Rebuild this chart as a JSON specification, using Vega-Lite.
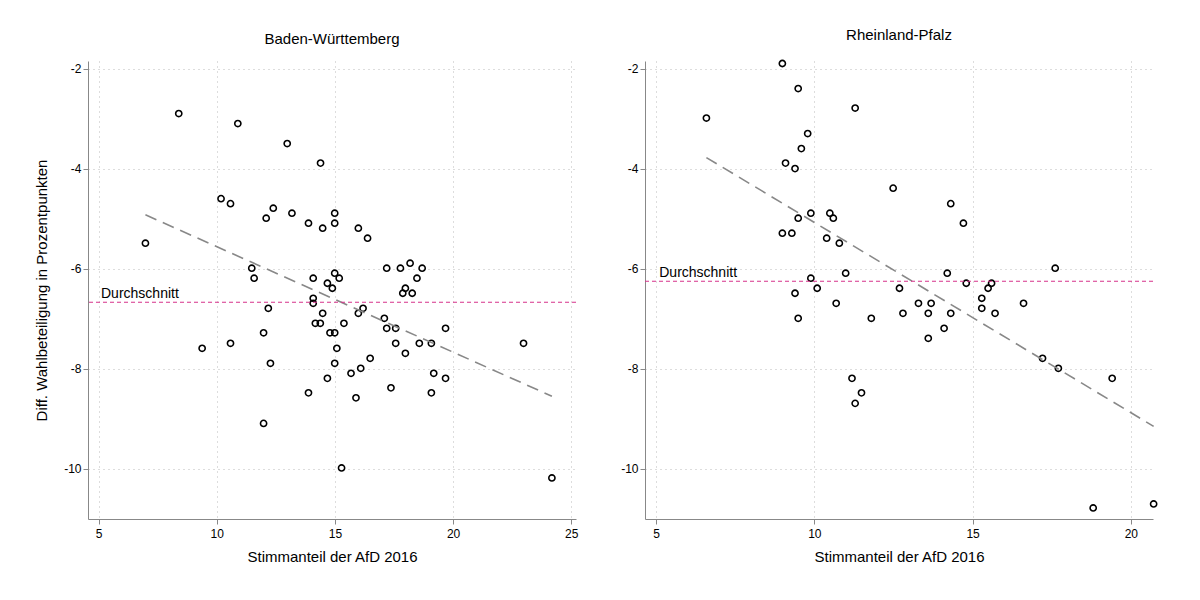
{
"$schema": "https://vega.github.io/schema/vega-lite/v6.json",
"background": "white",
"padding": {"left": 34, "top": 28, "right": 10, "bottom": 10},
"config": {
  "font": "Liberation Sans",
  "view": {"stroke": null},
  "axis": {"gridDash": [1, 4], "gridColor": "#bbbbbb", "gridWidth": 1, "domainColor": "#888888", "tickColor": "#888888", "labelFontSize": 12, "titleFontSize": 15, "titleFontWeight": "normal", "labelColor": "#000", "titleColor": "#000", "labelFont": "Liberation Sans", "titleFont": "Liberation Sans"},
  "title": {"fontSize": 15, "fontWeight": "normal", "font": "Liberation Sans", "offset": 14, "baseline": "alphabetic"},
  "concat": {"spacing": 42}
},
"datasets": {
 "bw": [
  {"x":8.39,"y":-2.90},{"x":10.89,"y":-3.10},{"x":12.98,"y":-3.50},{"x":14.39,"y":-3.89},{"x":10.18,"y":-4.60},{"x":10.58,"y":-4.70},{"x":12.39,"y":-4.79},{"x":12.09,"y":-4.99},{"x":13.18,"y":-4.89},{"x":14.99,"y":-4.89},{"x":13.88,"y":-5.09},{"x":14.99,"y":-5.09},{"x":14.48,"y":-5.19},{"x":15.99,"y":-5.19},{"x":16.38,"y":-5.39},{"x":6.98,"y":-5.49},{"x":11.48,"y":-5.99},{"x":11.58,"y":-6.19},{"x":17.19,"y":-5.99},{"x":17.77,"y":-5.99},{"x":18.18,"y":-5.89},{"x":18.69,"y":-5.99},{"x":18.47,"y":-6.19},{"x":14.08,"y":-6.19},{"x":14.99,"y":-6.09},{"x":15.18,"y":-6.19},{"x":14.68,"y":-6.29},{"x":14.89,"y":-6.39},{"x":17.98,"y":-6.39},{"x":17.87,"y":-6.49},{"x":18.27,"y":-6.49},{"x":14.08,"y":-6.59},{"x":14.08,"y":-6.69},{"x":12.18,"y":-6.79},{"x":14.48,"y":-6.89},{"x":16.19,"y":-6.79},{"x":15.99,"y":-6.89},{"x":17.09,"y":-6.99},{"x":14.17,"y":-7.09},{"x":14.38,"y":-7.09},{"x":15.38,"y":-7.09},{"x":17.19,"y":-7.19},{"x":17.57,"y":-7.19},{"x":19.68,"y":-7.19},{"x":11.98,"y":-7.28},{"x":14.79,"y":-7.28},{"x":14.99,"y":-7.28},{"x":9.38,"y":-7.59},{"x":10.58,"y":-7.49},{"x":15.08,"y":-7.59},{"x":17.57,"y":-7.49},{"x":18.57,"y":-7.49},{"x":19.08,"y":-7.49},{"x":22.98,"y":-7.49},{"x":17.98,"y":-7.69},{"x":12.27,"y":-7.89},{"x":14.99,"y":-7.89},{"x":16.49,"y":-7.79},{"x":16.09,"y":-7.99},{"x":15.68,"y":-8.09},{"x":14.68,"y":-8.19},{"x":19.18,"y":-8.09},{"x":19.68,"y":-8.19},{"x":17.37,"y":-8.38},{"x":13.88,"y":-8.48},{"x":19.08,"y":-8.48},{"x":15.89,"y":-8.58},{"x":11.98,"y":-9.09},{"x":15.28,"y":-9.98},{"x":24.18,"y":-10.18}
 ],
 "rp": [
  {"x":6.59,"y":-2.99},{"x":8.99,"y":-1.90},{"x":9.49,"y":-2.40},{"x":11.29,"y":-2.79},{"x":9.79,"y":-3.30},{"x":9.59,"y":-3.60},{"x":9.09,"y":-3.89},{"x":9.39,"y":-4.0},{"x":12.49,"y":-4.39},{"x":14.31,"y":-4.70},{"x":14.71,"y":-5.09},{"x":9.89,"y":-4.89},{"x":9.49,"y":-4.99},{"x":10.49,"y":-4.89},{"x":10.6,"y":-4.99},{"x":8.99,"y":-5.29},{"x":9.29,"y":-5.29},{"x":10.39,"y":-5.39},{"x":10.79,"y":-5.49},{"x":10.99,"y":-6.09},{"x":14.2,"y":-6.09},{"x":17.61,"y":-5.99},{"x":9.89,"y":-6.19},{"x":14.8,"y":-6.29},{"x":15.6,"y":-6.29},{"x":15.49,"y":-6.39},{"x":10.09,"y":-6.39},{"x":12.69,"y":-6.39},{"x":9.39,"y":-6.49},{"x":15.29,"y":-6.59},{"x":10.69,"y":-6.69},{"x":13.29,"y":-6.69},{"x":13.69,"y":-6.69},{"x":16.61,"y":-6.69},{"x":15.29,"y":-6.79},{"x":12.8,"y":-6.89},{"x":13.6,"y":-6.89},{"x":14.31,"y":-6.89},{"x":15.71,"y":-6.89},{"x":9.49,"y":-6.99},{"x":11.8,"y":-6.99},{"x":14.1,"y":-7.19},{"x":13.6,"y":-7.39},{"x":17.21,"y":-7.79},{"x":17.71,"y":-7.99},{"x":19.41,"y":-8.19},{"x":11.19,"y":-8.19},{"x":11.49,"y":-8.48},{"x":11.29,"y":-8.69},{"x":18.81,"y":-10.78},{"x":20.72,"y":-10.70}
 ],
 "bwavg": [{"x":5.1,"y":-6.67,"label":"Durchschnitt"}],
 "rpavg": [{"x":5.1,"y":-6.25,"label":"Durchschnitt"}]
},
"hconcat": [
 {
  "title": "Baden-Württemberg",
  "width": 488, "height": 458,
  "layer": [
   {"data": {"name": "bw"}, "mark": {"type": "point", "shape": "circle", "filled": false, "color": "black", "size": 38, "strokeWidth": 1.6, "opacity": 1},
    "encoding": {
     "x": {"field": "x", "type": "quantitative", "scale": {"domain": [4.55, 25.2], "nice": false, "zero": false}, "axis": {"values": [5, 10, 15, 20, 25], "title": "Stimmanteil der AfD 2016", "titlePadding": 10, "labelPadding": 4}},
     "y": {"field": "y", "type": "quantitative", "scale": {"domain": [-11, -1.85], "nice": false, "zero": false}, "axis": {"values": [-2, -4, -6, -8, -10], "labelExpr": "replace(datum.label, '−', '-')", "title": "Diff. Wahlbeteiligung in Prozentpunkten", "titlePadding": 14}}
    }},
   {"data": {"name": "bw"}, "transform": [{"regression": "y", "on": "x"}], "mark": {"type": "line", "color": "#888888", "strokeDash": [12, 7], "strokeWidth": 1.6},
    "encoding": {"x": {"field": "x", "type": "quantitative"}, "y": {"field": "y", "type": "quantitative"}}},
   {"data": {"name": "bwavg"}, "mark": {"type": "rule", "color": "#d6338a", "strokeDash": [4, 3], "strokeWidth": 1.2},
    "encoding": {"y": {"field": "y", "type": "quantitative"}}},
   {"data": {"name": "bwavg"}, "mark": {"type": "text", "align": "left", "baseline": "bottom", "fontSize": 14, "dy": -1},
    "encoding": {"x": {"field": "x", "type": "quantitative"}, "y": {"field": "y", "type": "quantitative"}, "text": {"field": "label"}}}
  ]
 },
 {
  "title": "Rheinland-Pfalz",
  "width": 508, "height": 458,
  "layer": [
   {"data": {"name": "rp"}, "mark": {"type": "point", "shape": "circle", "filled": false, "color": "black", "size": 38, "strokeWidth": 1.6, "opacity": 1},
    "encoding": {
     "x": {"field": "x", "type": "quantitative", "scale": {"domain": [4.65, 20.7], "nice": false, "zero": false}, "axis": {"values": [5, 10, 15, 20], "title": "Stimmanteil der AfD 2016", "titlePadding": 10, "labelPadding": 4}},
     "y": {"field": "y", "type": "quantitative", "scale": {"domain": [-11, -1.85], "nice": false, "zero": false}, "axis": {"values": [-2, -4, -6, -8, -10], "labelExpr": "replace(datum.label, '−', '-')", "title": null}}
    }},
   {"data": {"name": "rp"}, "transform": [{"regression": "y", "on": "x"}], "mark": {"type": "line", "color": "#888888", "strokeDash": [12, 7], "strokeWidth": 1.6},
    "encoding": {"x": {"field": "x", "type": "quantitative"}, "y": {"field": "y", "type": "quantitative"}}},
   {"data": {"name": "rpavg"}, "mark": {"type": "rule", "color": "#d6338a", "strokeDash": [4, 3], "strokeWidth": 1.2},
    "encoding": {"y": {"field": "y", "type": "quantitative"}}},
   {"data": {"name": "rpavg"}, "mark": {"type": "text", "align": "left", "baseline": "bottom", "fontSize": 14, "dy": -1},
    "encoding": {"x": {"field": "x", "type": "quantitative"}, "y": {"field": "y", "type": "quantitative"}, "text": {"field": "label"}}}
  ]
 }
]
}
